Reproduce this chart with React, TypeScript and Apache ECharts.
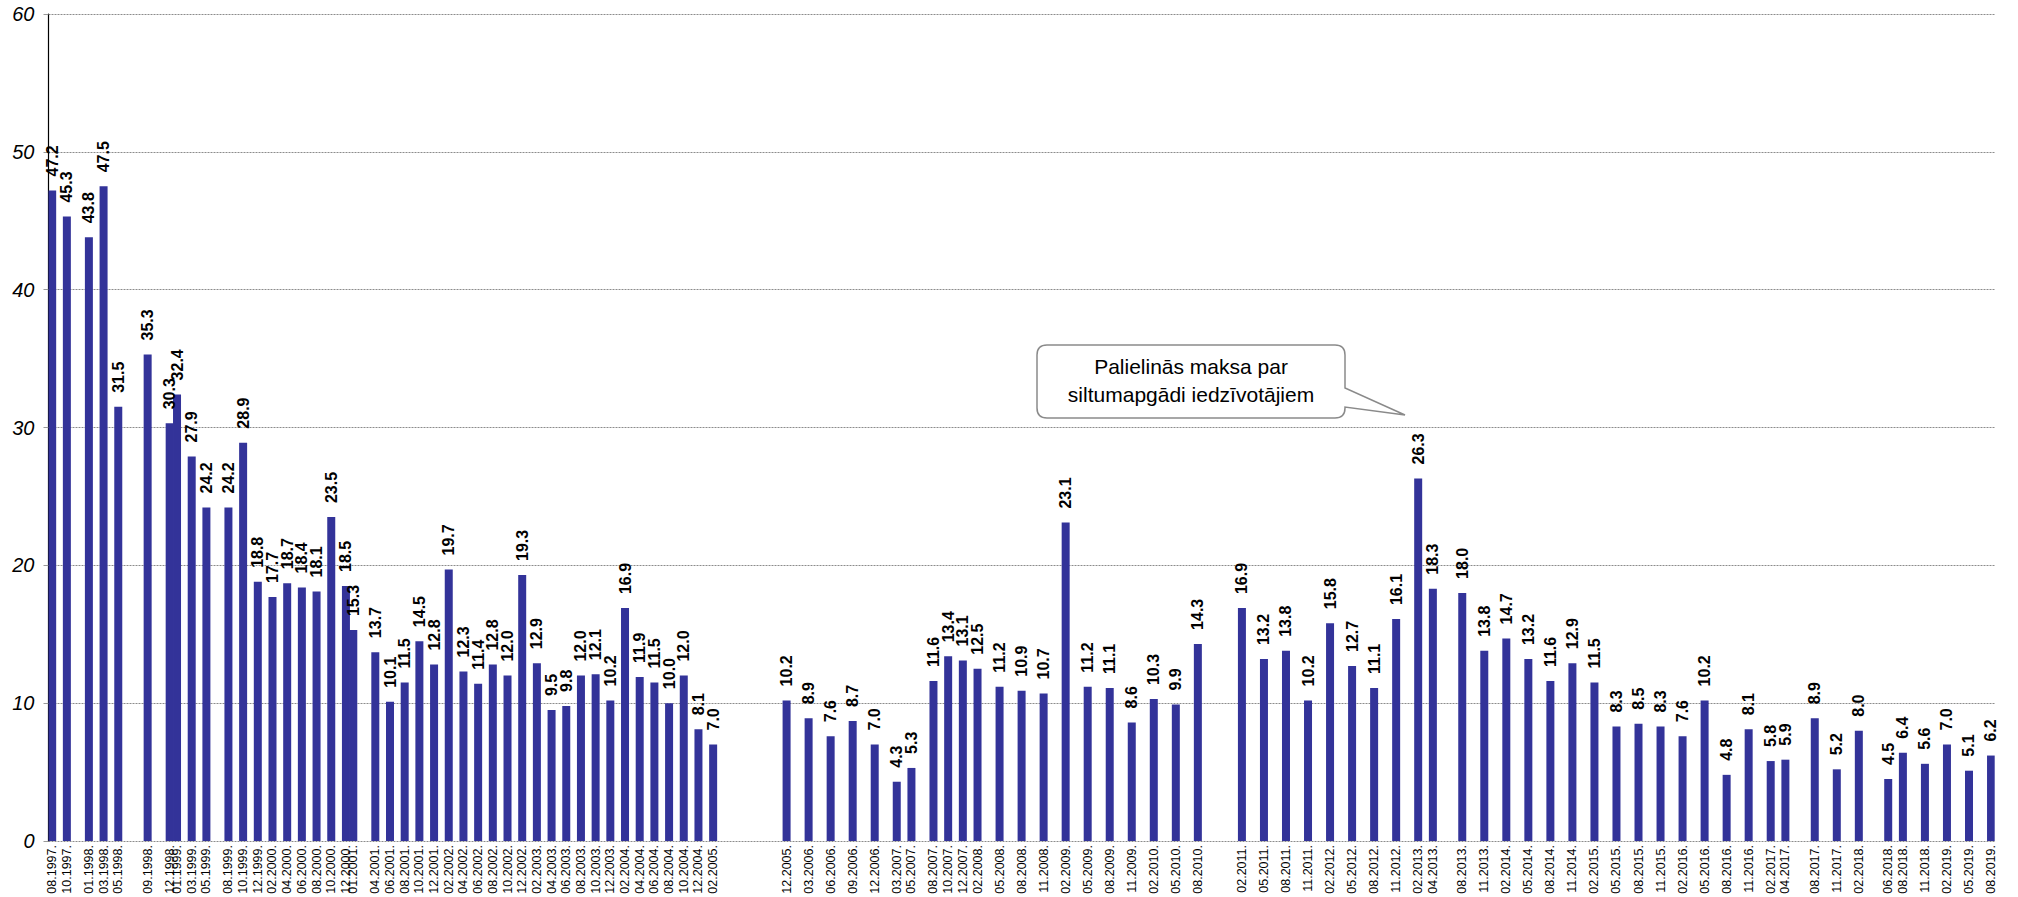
import React, { useEffect, useRef } from "react";
import * as echarts from "echarts";

// Months with a recorded value (MM.YYYY) and the values
const dates: string[] = [
  "08.1997", "10.1997", "01.1998", "03.1998", "05.1998", "09.1998", "12.1998", "01.1999",
  "03.1999", "05.1999", "08.1999", "10.1999", "12.1999", "02.2000", "04.2000", "06.2000",
  "08.2000", "10.2000", "12.2000", "01.2001", "04.2001", "06.2001", "08.2001", "10.2001",
  "12.2001", "02.2002", "04.2002", "06.2002", "08.2002", "10.2002", "12.2002", "02.2003",
  "04.2003", "06.2003", "08.2003", "10.2003", "12.2003", "02.2004", "04.2004", "06.2004",
  "08.2004", "10.2004", "12.2004", "02.2005", "12.2005", "03.2006", "06.2006", "09.2006",
  "12.2006", "03.2007", "05.2007", "08.2007", "10.2007", "12.2007", "02.2008", "05.2008",
  "08.2008", "11.2008", "02.2009", "05.2009", "08.2009", "11.2009", "02.2010", "05.2010",
  "08.2010", "02.2011", "05.2011", "08.2011", "11.2011", "02.2012", "05.2012", "08.2012",
  "11.2012", "02.2013", "04.2013", "08.2013", "11.2013", "02.2014", "05.2014", "08.2014",
  "11.2014", "02.2015", "05.2015", "08.2015", "11.2015", "02.2016", "05.2016", "08.2016",
  "11.2016", "02.2017", "04.2017", "08.2017", "11.2017", "02.2018", "06.2018", "08.2018",
  "11.2018", "02.2019", "05.2019", "08.2019",
];

const values: number[] = [
  47.2, 45.3, 43.8, 47.5, 31.5, 35.3, 30.3, 32.4,
  27.9, 24.2, 24.2, 28.9, 18.8, 17.7, 18.7, 18.4,
  18.1, 23.5, 18.5, 15.3, 13.7, 10.1, 11.5, 14.5,
  12.8, 19.7, 12.3, 11.4, 12.8, 12.0, 19.3, 12.9,
  9.5, 9.8, 12.0, 12.1, 10.2, 16.9, 11.9, 11.5,
  10.0, 12.0, 8.1, 7.0, 10.2, 8.9, 7.6, 8.7,
  7.0, 4.3, 5.3, 11.6, 13.4, 13.1, 12.5, 11.2,
  10.9, 10.7, 23.1, 11.2, 11.1, 8.6, 10.3, 9.9,
  14.3, 16.9, 13.2, 13.8, 10.2, 15.8, 12.7, 11.1,
  16.1, 26.3, 18.3, 18.0, 13.8, 14.7, 13.2, 11.6,
  12.9, 11.5, 8.3, 8.5, 8.3, 7.6, 10.2, 4.8,
  8.1, 5.8, 5.9, 8.9, 5.2, 8.0, 4.5, 6.4,
  5.6, 7.0, 5.1, 6.2,
];

const yTicks: number[] = [0, 10, 20, 30, 40, 50, 60];

const calloutLines: string[] = ["Palielinās maksa par", "siltumapgādi iedzīvotājiem"];

// Full monthly timeline 08.1997 .. 08.2019
const startYear = 1997;
const startMonth = 8;
const endYear = 2019;
const endMonth = 8;

const FONT = 'Arial, "Liberation Sans", sans-serif';

let shapeRegistered = false;
function registerCallout() {
  if (shapeRegistered) return;
  const d =
    "M 10 0 H 298 Q 308 0 308 10 V 43 L 368 70 L 308 62 V 63 Q 308 73 298 73 H 10 Q 0 73 0 63 V 10 Q 0 0 10 0 Z";
  echarts.graphic.registerShape("callout", echarts.graphic.extendPath(d, {}) as any);
  shapeRegistered = true;
}

export default function App() {
  const ref = useRef<HTMLDivElement>(null);

  useEffect(() => {
    if (!ref.current) return;
    registerCallout();

    const months: string[] = [];
    let y = startYear;
    let m = startMonth;
    while (y < endYear || (y === endYear && m <= endMonth)) {
      months.push(`${String(m).padStart(2, "0")}.${y}`);
      m++;
      if (m > 12) {
        m = 1;
        y++;
      }
    }
    const valueMap: Record<string, number> = {};
    dates.forEach((d, i) => (valueMap[d] = values[i]));
    const seriesData = months.map((mm) => (mm in valueMap ? valueMap[mm] : "-"));

    const chart = echarts.init(ref.current, null, { renderer: "svg" });
    chart.setOption({
      animation: false,
      backgroundColor: "#ffffff",
      grid: { left: 48.5, right: 23.3, top: 14, bottom: 56, containLabel: false },
      xAxis: {
        type: "category",
        data: months,
        boundaryGap: true,
        axisLine: { show: false },
        axisTick: { show: false },
        splitLine: { show: false },
        axisLabel: {
          rotate: 90,
          interval: (idx: number, val: string) => val in valueMap,
          formatter: (val: string) => val + ".",
          fontFamily: FONT,
          fontSize: 12.5,
          color: "#000",
          margin: 4,
        },
      },
      yAxis: {
        type: "value",
        min: yTicks[0],
        max: yTicks[yTicks.length - 1],
        interval: 10,
        axisLine: { show: true, lineStyle: { color: "#000", width: 1.2 } },
        axisTick: { show: true, length: 5, lineStyle: { color: "#999" } },
        axisLabel: {
          fontFamily: FONT,
          fontSize: 20,
          fontStyle: "italic",
          color: "#000",
          margin: 14,
        },
        splitLine: {
          show: true,
          lineStyle: { color: "#8c8c8c", type: [2, 1], width: 1 },
        },
      },
      series: [
        {
          type: "bar",
          data: seriesData,
          barWidth: 8,
          itemStyle: { color: "#333399" },
          label: {
            show: true,
            position: "top",
            rotate: 90,
            align: "left",
            verticalAlign: "middle",
            distance: 14,
            fontFamily: FONT,
            fontSize: 16,
            fontWeight: "bold",
            color: "#000",
            formatter: (p: any) => Number(p.value).toFixed(1),
          },
        },
      ],
      graphic: [
        {
          type: "callout",
          x: 1037,
          y: 345,
          style: { fill: "#ffffff", stroke: "#8a8a8a", lineWidth: 1.5 },
          z: 100,
        },
        {
          type: "text",
          x: 1191,
          y: 380,
          z: 101,
          style: {
            text: calloutLines.join("\n"),
            font: `21px ${FONT}`,
            fontSize: 21,
            fontFamily: FONT,
            fill: "#000",
            align: "center",
            verticalAlign: "middle",
            textAlign: "center",
            textVerticalAlign: "middle",
            lineHeight: 28,
          },
        },
      ],
    });
    return () => chart.dispose();
  }, []);

  return (
    <div
      ref={ref}
      style={{ position: "absolute", left: 0, top: 0, width: 2018, height: 897 }}
    />
  );
}
